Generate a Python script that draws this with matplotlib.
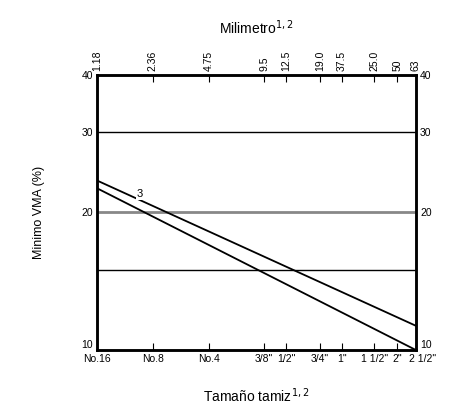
import matplotlib.pyplot as plt
from matplotlib.ticker import NullFormatter, NullLocator
from matplotlib.transforms import ScaledTranslation

# tamaños de tamiz (mm) y sus nombres
tamiz_mm = [1.18, 2.36, 4.75, 9.5, 12.5, 19.0, 25.0, 37.5, 50.0, 63.0]
tamiz_nombre = ['No.16', 'No.8', 'No.4', '3/8"', '1/2"', '3/4"', '1"', '1 1/2"', '2"', '2 1/2"']
mm_etiqueta = ['1.18', '2.36', '4.75', '9.5', '12.5', '19.0', '37.5', '25.0', '50', '63']

# VMA mínimo (%) en los extremos de cada recta
x_rectas = [1.18, 63.0]
vma_3 = [23.5, 11.3]
vma_base = [22.6, 10.0]

y_ticks = [10, 20, 30, 40]
lineas_h = [15, 20, 30]

plt.rcParams['font.family'] = ['Liberation Sans', 'DejaVu Sans']
fig = plt.figure(figsize=(4.5, 4.09), dpi=100)
ax = fig.add_axes([0.2156, 0.1443, 0.7084, 0.6723])

ax.set_xscale('log')
ax.set_yscale('log')
ax.set_xlim(1.18, 63.0)
ax.set_ylim(10, 40)

for v in lineas_h:
    if v == 20:
        ax.axhline(v, color='#888888', lw=2.0, zorder=1)
    else:
        ax.axhline(v, color='black', lw=1.0, zorder=1)

ax.plot(x_rectas, vma_3, color='black', lw=1.3, zorder=3)
ax.plot(x_rectas, vma_base, color='black', lw=1.3, zorder=3)
ax.text(2.0, 21.9, '3', fontsize=8, ha='center', va='center',
        bbox=dict(facecolor='white', edgecolor='none', pad=0.5), zorder=4)

ax.xaxis.set_minor_locator(NullLocator())
ax.yaxis.set_minor_locator(NullLocator())
ax.xaxis.set_minor_formatter(NullFormatter())
ax.yaxis.set_minor_formatter(NullFormatter())

ax.set_xticks(tamiz_mm)
ax.set_xticklabels(tamiz_nombre, fontsize=7.5)
ax.set_yticks(y_ticks)
ax.set_yticklabels([str(t) for t in y_ticks], fontsize=7.5)
ax.tick_params(axis='x', direction='in', length=5, pad=3, top=False)
ax.tick_params(axis='y', direction='in', length=0, pad=3,
               labelright=True, right=True)

# el "10" queda un poco por encima del eje inferior
ytk = ax.yaxis.get_major_ticks()[0]
ytk.label1.set_verticalalignment('bottom')
ytk.label2.set_verticalalignment('bottom')

# la última etiqueta de tamiz se corre a la derecha
ultima = ax.get_xticklabels()[-1]
ultima.set_horizontalalignment('left')
ultima.set_transform(ultima.get_transform() + ScaledTranslation(-7 / 100, 0, fig.dpi_scale_trans))

# eje superior en milímetros
ax2 = ax.twiny()
ax2.set_xscale('log')
ax2.set_xlim(ax.get_xlim())
ax2.xaxis.set_minor_locator(NullLocator())
ax2.xaxis.set_minor_formatter(NullFormatter())
ax2.set_xticks(tamiz_mm)
ax2.set_xticklabels(mm_etiqueta, fontsize=7.5, rotation=90)
ax2.tick_params(axis='x', direction='in', length=5, pad=3)

for a in (ax, ax2):
    for s in a.spines.values():
        s.set_linewidth(1.8)

ax.set_ylabel('Minimo VMA (%)', fontsize=9, labelpad=26)
ax.set_xlabel('Tamaño tamiz$^{1,2}$', fontsize=10, labelpad=16)
ax2.set_xlabel('Milimetro$^{1,2}$', fontsize=10, labelpad=12)

fig.savefig('out.png', dpi=100)
